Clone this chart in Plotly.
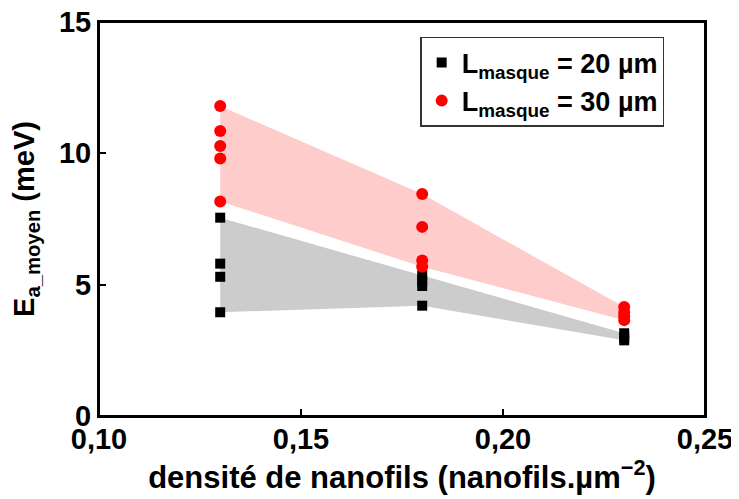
import plotly.graph_objects as go

# ---- data ----
densities = [0.13, 0.18, 0.23]
ea_20um = [
    [7.55, 5.8, 5.3, 3.95],
    [5.35, 5.15, 4.95, 4.2],
    [3.15, 3.0, 2.88],
]
ea_30um = [
    [11.8, 10.85, 10.28, 9.8, 8.17],
    [8.45, 7.2, 5.92, 5.68],
    [4.15, 3.95, 3.8, 3.65],
]
x_ticks = [0.10, 0.15, 0.20, 0.25]
y_ticks = [0, 5, 10, 15]
label_20 = "L<sub>masque</sub> = 20 µm"
label_30 = "L<sub>masque</sub> = 30 µm"

FONT = "Liberation Sans, Arial, sans-serif"


def envelope(xs, groups):
    mx = [max(g) for g in groups]
    mn = [min(g) for g in groups]
    return xs + xs[::-1], mx + mn[::-1]


def flatten(xs, groups):
    px, py = [], []
    for x, g in zip(xs, groups):
        px += [x] * len(g)
        py += g
    return px, py


fig = go.Figure()

ex, ey = envelope(densities, ea_20um)
fig.add_trace(go.Scatter(x=ex, y=ey, fill="toself", fillcolor="#CCCCCC",
                         line=dict(width=0), mode="lines", hoverinfo="skip",
                         showlegend=False))
ex, ey = envelope(densities, ea_30um)
fig.add_trace(go.Scatter(x=ex, y=ey, fill="toself", fillcolor="#FFCCCC",
                         line=dict(width=0), mode="lines", hoverinfo="skip",
                         showlegend=False))

px, py = flatten(densities, ea_20um)
fig.add_trace(go.Scatter(x=px, y=py, mode="markers", name=label_20,
                         marker=dict(symbol="square", size=10, color="black")))
px, py = flatten(densities, ea_30um)
fig.add_trace(go.Scatter(x=px, y=py, mode="markers", name=label_30,
                         marker=dict(symbol="circle", size=12, color="#FF0000")))

axis_common = dict(
    showgrid=False, zeroline=False, showline=True, linecolor="black",
    linewidth=2, mirror=True, ticks="inside", ticklen=7, tickwidth=2,
    tickcolor="black", automargin=False, ticklabeloverflow="allow",
    tickfont=dict(family=FONT, size=29, color="black", weight="bold"),
)

fig.update_layout(
    width=739, height=499,
    margin=dict(l=91, r=42, t=14, b=91),
    paper_bgcolor="white", plot_bgcolor="white",
    separators=", ",
    font=dict(family=FONT, color="black"),
    xaxis=dict(range=[0.10, 0.25], tickvals=x_ticks, tickformat=".2f",
               ticklabelstandoff=-4,
               title=dict(text="densité de nanofils (nanofils.µm<sup>−2</sup>)",
                          font=dict(family=FONT, size=31, weight="bold"),
                          standoff=0),
               **axis_common),
    yaxis=dict(range=[0, 15], tickvals=y_ticks,
               title=dict(text="E<sub>a_moyen</sub> (meV)",
                          font=dict(family=FONT, size=29, weight="bold"),
                          standoff=18),
               **axis_common),
    legend=dict(x=0.53, y=0.962, xanchor="left", yanchor="top",
                bgcolor="white", bordercolor="#333333", borderwidth=1.5,
                font=dict(family=FONT, size=27, color="black", weight="bold"),
                itemsizing="trace"),
    shapes=[dict(type="rect", xref="paper", yref="paper", x0=0, x1=1,
                 y0=0, y1=1, line=dict(color="black", width=2),
                 layer="above")],
)

fig.write_html("out.html")
